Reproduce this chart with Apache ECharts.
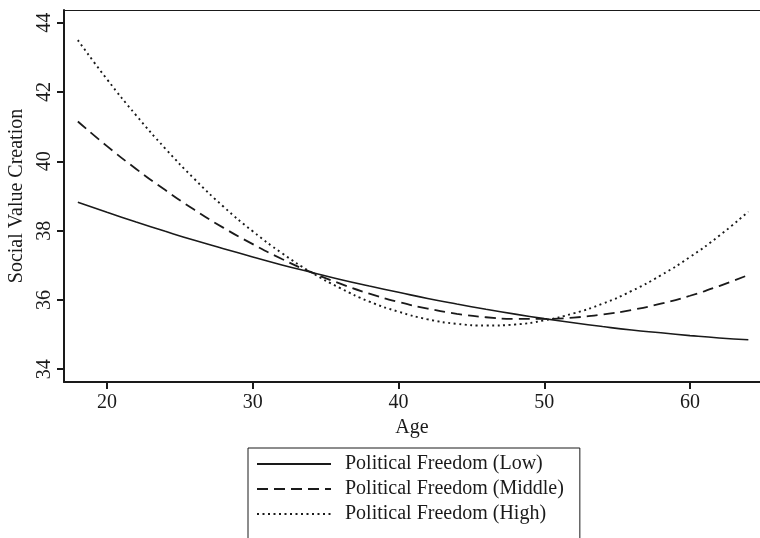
<!DOCTYPE html>
<html>
<head>
<meta charset="utf-8">
<script src="https://cdn.jsdelivr.net/npm/echarts@6/dist/echarts.min.js"></script>
<style>
  html, body { margin: 0; padding: 0; background: #fff; }
  #chart { width: 760px; height: 538px; }
</style>
</head>
<body>
<div id="chart"></div>
<script>
// data, ages 18..64 every 2 years
const ages = [18, 20, 22, 24, 26, 28, 30, 32, 34, 36, 38, 40, 42, 44, 46, 48, 50, 52, 54, 56, 58, 60, 62, 64]
const lowFreedom = [38.82, 38.53, 38.25, 37.98, 37.72, 37.48, 37.24, 37.01, 36.80, 36.59, 36.40, 36.22,
  36.04, 35.88, 35.73, 35.59, 35.46, 35.34, 35.23, 35.13, 35.05, 34.97, 34.90, 34.85]
const middleFreedom = [41.15, 40.44, 39.78, 39.17, 38.60, 38.08, 37.61, 37.18, 36.80, 36.47, 36.18, 35.94,
  35.75, 35.60, 35.50, 35.45, 35.45, 35.49, 35.58, 35.71, 35.89, 36.12, 36.40, 36.72]
const highFreedom = [43.50, 42.37, 41.33, 40.37, 39.49, 38.69, 37.98, 37.35, 36.80, 36.34, 35.95, 35.66,
  35.44, 35.31, 35.26, 35.29, 35.41, 35.61, 35.89, 36.26, 36.71, 37.24, 37.85, 38.55]
const xTicks = [20, 30, 40, 50, 60]
const yTicks = [34, 36, 38, 40, 42, 44]
const seriesNames = ['Political Freedom (Low)', 'Political Freedom (Middle)', 'Political Freedom (High)']

const font = 'Liberation Serif'
const ink = '#1a1a1a'

function pairs(ys) {
  return ages.map((a, i) => [a, ys[i]])
}

function lineSeries(name, ys, dash, width) {
  return {
    name: name,
    type: 'line',
    xAxisIndex: 0,
    data: pairs(ys),
    smooth: true,
    symbol: 'none',
    lineStyle: { color: ink, width: width, type: dash },
    itemStyle: { color: ink }
  }
}

const myChart = echarts.init(document.getElementById('chart'), null, { renderer: 'canvas' })

myChart.setOption({
  animation: false,
  backgroundColor: '#fff',
  textStyle: { fontFamily: font },
  grid: { left: 64, top: 10, right: 0, bottom: 156, outerBoundsMode: 'none', containLabel: false },
  xAxis: [{
    type: 'value',
    min: 17.05,
    max: 64.8,
    name: 'Age',
    nameLocation: 'middle',
    nameGap: 33,
    nameTextStyle: { fontFamily: font, fontSize: 20, color: ink },
    axisLine: { lineStyle: { color: ink, width: 2 } },
    axisTick: { customValues: xTicks, length: 7, lineStyle: { color: ink, width: 2 } },
    axisLabel: { customValues: xTicks, margin: 11, fontFamily: font, fontSize: 20, color: ink },
    splitLine: { show: false }
  }, {
    // top frame line only
    type: 'value',
    position: 'top',
    min: 17.05,
    max: 64.8,
    axisLine: { show: true, lineStyle: { color: ink, width: 1 } },
    axisTick: { show: false },
    axisLabel: { show: false },
    splitLine: { show: false }
  }],
  yAxis: {
    type: 'value',
    min: 33.63,
    max: 44.37,
    name: 'Social Value Creation',
    nameLocation: 'middle',
    nameGap: 28,
    nameTextStyle: { fontFamily: font, fontSize: 20, color: ink },
    axisLine: { show: true, lineStyle: { color: ink, width: 2 } },
    axisTick: { show: true, customValues: yTicks, length: 7, lineStyle: { color: ink, width: 2 } },
    axisLabel: { customValues: yTicks, rotate: 90, margin: 9, fontFamily: font, fontSize: 20, color: ink },
    splitLine: { show: false }
  },
  legend: {
    orient: 'vertical',
    left: 248,
    top: 448,
    height: 160,
    padding: [6, 16, 40, 8],
    borderColor: ink,
    borderWidth: 1,
    itemWidth: 74,
    itemHeight: 20,
    itemGap: 5,
    itemStyle: { opacity: 0 },
    textStyle: { fontFamily: font, fontSize: 20, lineHeight: 20, color: ink, padding: [0, 0, 0, 9] },
    data: seriesNames
  },
  series: [
    lineSeries(seriesNames[0], lowFreedom, 'solid', 1.6),
    lineSeries(seriesNames[1], middleFreedom, [11, 6], 1.8),
    lineSeries(seriesNames[2], highFreedom, [2, 3.5], 1.9)
  ]
})
</script>
</body>
</html>
